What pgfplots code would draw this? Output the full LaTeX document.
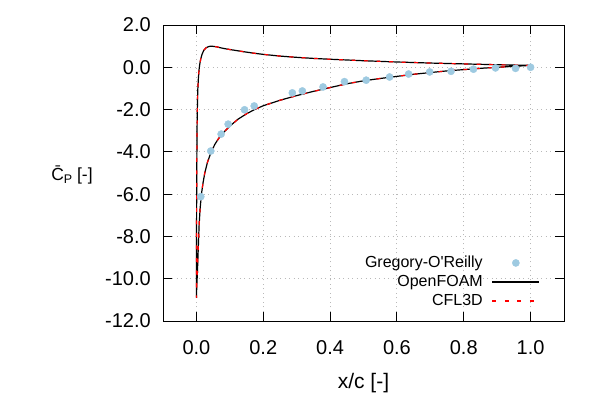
\documentclass[border=0pt]{standalone}
\usepackage{pgfplots}
\pgfplotsset{compat=1.18}
\usepackage{fontspec}
\setmainfont{Liberation Sans}
\definecolor{ptblue}{RGB}{158,202,225}
\definecolor{gridgray}{RGB}{185,185,185}
\pgfplotsset{
  linelegend/.style={legend image code/.code={\draw[##1] (0bp,0bp) -- (47bp,0bp);}},
  marklegend/.style={legend image code/.code={\draw[mark repeat=2,mark phase=2,##1] plot coordinates {(0bp,0bp)(23.5bp,0bp)(47bp,0bp)};}},
}
\begin{document}
\begin{tikzpicture}
\useasboundingbox (0,0) rectangle (600bp,400bp);
\begin{axis}[
  at={(163bp,79bp)}, anchor=south west,
  scale only axis, width=401bp, height=296bp,
  xmin=-0.1, xmax=1.1, ymin=-12, ymax=2,
  xtick={0,0.2,0.4,0.6,0.8,1.0},
  ytick={-12,-10,-8,-6,-4,-2,0,2},
  tick align=inside, major tick length=9bp,
  axis line style={black, line width=0.9bp},
  every tick/.style={black, line width=0.9bp},
  grid=major,
  grid style={gridgray, line width=0.9bp, dash pattern=on 1bp off 3.5bp},
  /pgf/number format/assume math mode=true,
  /pgf/number format/.cd, fixed, fixed zerofill, precision=1, /pgfplots/.cd,
  ticklabel style={font=\fontsize{20bp}{20bp}\selectfont},
  xticklabel style={inner sep=0pt, anchor=north, yshift=-19bp},
  yticklabel style={inner sep=0pt, anchor=east, xshift=-12bp},
  xlabel={x/c [-]},
  xlabel style={font=\fontsize{21bp}{21bp}\selectfont, at={(axis description cs:0.5,-0.209)}, anchor=center},
  ylabel={\={C}\raisebox{-0.3ex}{\fontsize{12.5bp}{12.5bp}\selectfont P} [-]},
  ylabel style={font=\fontsize{17.5bp}{17.5bp}\selectfont, rotate=-90, at={(axis description cs:-0.227,0.493)}, anchor=center},
  legend style={draw=none, fill=none, at={(axis description cs:0.948,0.035)}, anchor=south east,
    font=\fontsize{16bp}{19bp}\selectfont, row sep=4bp, column sep=9bp,
    nodes={inner sep=0pt, text height=12bp, text depth=3bp}},
  legend cell align=right,
  legend plot pos=right,
]
\addplot[only marks, mark=*, mark size=3.6bp, mark options={draw=ptblue, fill=ptblue}, marklegend]
coordinates {
(0.013,-6.12) (0.043,-3.96) (0.074,-3.16) (0.095,-2.69) (0.144,-2.01) (0.173,-1.83)
(0.287,-1.21) (0.317,-1.12) (0.379,-0.93) (0.443,-0.68) (0.508,-0.61) (0.578,-0.46)
(0.635,-0.32) (0.698,-0.22) (0.762,-0.19) (0.829,-0.09) (0.895,-0.03) (0.955,-0.05) (1.000,0.0)
};
\addlegendentry{Gregory-O\textquotesingle Reilly}
\addplot[black, line width=1.2bp, linelegend]
coordinates {
(1.000,0.09) (0.950,0.105) (0.900,0.12) (0.850,0.14) (0.800,0.16) (0.750,0.18) (0.700,0.20)
(0.650,0.225) (0.600,0.25) (0.550,0.28) (0.500,0.31) (0.450,0.345) (0.400,0.38) (0.350,0.42)
(0.300,0.47) (0.250,0.53) (0.200,0.61) (0.170,0.67) (0.140,0.74) (0.120,0.79) (0.100,0.84)
(0.085,0.88) (0.070,0.93) (0.060,0.97) (0.050,0.99) (0.042,1.00) (0.035,0.97) (0.028,0.91)
(0.022,0.80) (0.017,0.62) (0.013,0.40) (0.010,0.15) (0.008,-0.1) (0.006,-0.5) (0.004,-1.1)
(0.003,-1.8) (0.002,-2.8) (0.0012,-4.5) (0.0006,-6.8) (0.0002,-9.2) (0.0,-10.9)
(0.0005,-10.6) (0.0015,-10.2) (0.003,-9.7) (0.005,-8.8) (0.008,-7.5) (0.011,-6.7) (0.015,-6.0)
(0.020,-5.45) (0.025,-5.0) (0.033,-4.5) (0.043,-4.05) (0.055,-3.65) (0.065,-3.4) (0.080,-3.1)
(0.100,-2.78) (0.125,-2.45) (0.150,-2.2) (0.175,-1.99) (0.200,-1.82) (0.250,-1.56) (0.300,-1.34)
(0.350,-1.14) (0.400,-0.96) (0.450,-0.78) (0.500,-0.64) (0.550,-0.53) (0.600,-0.43) (0.650,-0.33)
(0.700,-0.25) (0.750,-0.17) (0.800,-0.11) (0.850,-0.05) (0.900,0.0) (0.950,0.045) (1.000,0.09)
};
\addlegendentry{OpenFOAM}
\addplot[red, line width=1.2bp, dash pattern=on 4bp off 8.5bp, linelegend]
coordinates {
(1.000,0.09) (0.950,0.105) (0.900,0.12) (0.850,0.14) (0.800,0.16) (0.750,0.18) (0.700,0.20)
(0.650,0.225) (0.600,0.25) (0.550,0.28) (0.500,0.31) (0.450,0.345) (0.400,0.38) (0.350,0.42)
(0.300,0.47) (0.250,0.53) (0.200,0.61) (0.170,0.67) (0.140,0.74) (0.120,0.79) (0.100,0.84)
(0.085,0.88) (0.070,0.93) (0.060,0.97) (0.050,0.99) (0.042,1.00) (0.035,0.97) (0.028,0.91)
(0.022,0.80) (0.017,0.62) (0.013,0.40) (0.010,0.15) (0.008,-0.1) (0.006,-0.5) (0.004,-1.1)
(0.003,-1.8) (0.002,-2.8) (0.0012,-4.5) (0.0006,-6.8) (0.0002,-9.2) (0.0,-10.9)
(0.0005,-10.6) (0.0015,-10.2) (0.003,-9.7) (0.005,-8.8) (0.008,-7.5) (0.011,-6.7) (0.015,-6.0)
(0.020,-5.45) (0.025,-5.0) (0.033,-4.5) (0.043,-4.05) (0.055,-3.65) (0.065,-3.4) (0.080,-3.1)
(0.100,-2.78) (0.125,-2.45) (0.150,-2.2) (0.175,-1.99) (0.200,-1.82) (0.250,-1.56) (0.300,-1.34)
(0.350,-1.14) (0.400,-0.96) (0.450,-0.78) (0.500,-0.64) (0.550,-0.53) (0.600,-0.43) (0.650,-0.33)
(0.700,-0.25) (0.750,-0.17) (0.800,-0.11) (0.850,-0.05) (0.900,0.0) (0.950,0.045) (1.000,0.09)
};
\addlegendentry{CFL3D}
\end{axis}
\end{tikzpicture}
\end{document}
